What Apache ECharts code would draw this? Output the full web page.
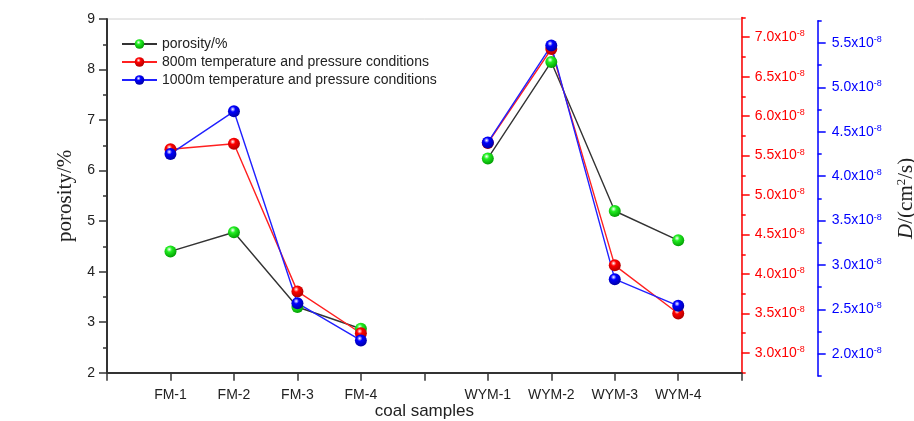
<!DOCTYPE html>
<html><head><meta charset="utf-8">
<script src="https://cdn.jsdelivr.net/npm/echarts@6/dist/echarts.min.js"></script>
<style>html,body{margin:0;padding:0;background:#fff}#c{width:914px;height:421px}</style>
</head><body><div id="c"></div>
<script>
// ---- data ----
const categories = ['', 'FM-1', 'FM-2', 'FM-3', 'FM-4', '', 'WYM-1', 'WYM-2', 'WYM-3', 'WYM-4', ''];
const seriesNames = ['porosity/%', '800m temperature and pressure conditions', '1000m temperature and pressure conditions'];
const porosity = [null, 4.40, 4.78, 3.30, 2.87, null, 6.24, 8.15, 5.20, 4.62, null];
// diffusion coefficients in units of 1e-8 cm^2/s
const d800 = [null, 5.58, 5.65, 3.78, 3.25, null, 5.66, 6.85, 4.11, 3.50, null];
const d1000 = [null, 4.25, 4.73, 2.57, 2.15, null, 4.38, 5.47, 2.84, 2.54, null];
const redTicks = [3.0, 3.5, 4.0, 4.5, 5.0, 5.5, 6.0, 6.5, 7.0];
const redMinor = [2.75, 3.25, 3.75, 4.25, 4.75, 5.25, 5.75, 6.25, 6.75, 7.25];
const blueTicks = [2.0, 2.5, 3.0, 3.5, 4.0, 4.5, 5.0, 5.5];
const blueMinor = [1.75, 2.25, 2.75, 3.25, 3.75, 4.25, 4.75, 5.25, 5.75];

const SANS = 'Liberation Sans, Arial, sans-serif';
const SERIF = 'Liberation Serif, Times New Roman, serif';

function sphere(base, dark) {
  return { type: 'radial', x: 0.4, y: 0.33, r: 0.7,
    colorStops: [{ offset: 0, color: '#ffffff' }, { offset: 0.32, color: base }, { offset: 1, color: dark }] };
}
function sciRich(color) {
  return {
    a: { fontSize: 14, color: color, fontFamily: SANS, lineHeight: 16 },
    b: { fontSize: 9, color: color, fontFamily: SANS, verticalAlign: 'top', lineHeight: 10 }
  };
}
const sciFmt = v => '{a|' + v.toFixed(1) + 'x10}{b|-8}';

const chart = echarts.init(document.getElementById('c'), null, { renderer: 'canvas' });
const G = { left: 107, right: 172.3, containLabel: false, outerBoundsMode: 'none' };
const option = {
  animation: false,
  backgroundColor: '#ffffff',
  grid: [
    Object.assign({}, G, { top: 19, bottom: 48.3, show: true, borderColor: '#d0d0d0', borderWidth: 1 }),
    Object.assign({}, G, { top: 17.5, bottom: 48.3 }),
    Object.assign({}, G, { top: 20.7, bottom: 45 })
  ],
  legend: {
    orient: 'vertical', left: 116, top: 32, itemWidth: 35, itemHeight: 12, itemGap: 4,
    textStyle: { fontSize: 14, color: '#222', fontFamily: SANS },
    data: seriesNames
  },
  xAxis: [
    { gridIndex: 0, type: 'category', data: categories, boundaryGap: false,
      axisLine: { lineStyle: { color: '#333', width: 2 } },
      axisTick: { interval: 0, length: 8, lineStyle: { color: '#333', width: 1.5 } },
      axisLabel: { interval: 0, margin: 15, fontSize: 14, color: '#222', fontFamily: SANS },
      splitLine: { show: false },
      name: 'coal samples', nameLocation: 'middle', nameGap: 30, nameMoveOverlap: false,
      nameTextStyle: { fontSize: 17, color: '#222', fontFamily: SANS } },
    { gridIndex: 1, type: 'category', data: categories, boundaryGap: false, show: false },
    { gridIndex: 2, type: 'category', data: categories, boundaryGap: false, show: false }
  ],
  yAxis: [
    { gridIndex: 0, type: 'value', position: 'left', min: 2, max: 9, interval: 1,
      axisLine: { show: true, lineStyle: { color: '#333', width: 2 } },
      axisTick: { show: true, length: 8, lineStyle: { color: '#333', width: 1.5 } },
      minorTick: { show: true, splitNumber: 2, length: 4, lineStyle: { color: '#333', width: 1.5 } },
      axisLabel: { margin: 12, fontSize: 14, color: '#222', fontFamily: SANS },
      splitLine: { show: false },
      name: 'porosity/%', nameLocation: 'middle', nameGap: 31,
      nameTextStyle: { fontSize: 21, color: '#222', fontFamily: SERIF } },
    { gridIndex: 1, type: 'value', position: 'right', min: 2.75, max: 7.25,
      axisLine: { show: true, lineStyle: { color: '#ff0000', width: 1.5 } },
      axisTick: { show: true, customValues: redTicks, length: 8, lineStyle: { color: '#ff0000', width: 1.5 } },
      axisLabel: { customValues: redTicks, margin: 13, formatter: sciFmt, rich: sciRich('#ff0000') },
      splitLine: { show: false } },
    { gridIndex: 1, type: 'value', position: 'right', min: 2.75, max: 7.25,
      axisLine: { show: false },
      axisTick: { show: true, customValues: redMinor, length: 4, lineStyle: { color: '#ff0000', width: 1.5 } },
      axisLabel: { show: false }, splitLine: { show: false } },
    { gridIndex: 2, type: 'value', position: 'right', offset: 76, min: 1.75, max: 5.75,
      axisLine: { show: true, lineStyle: { color: '#0000ff', width: 1.5 } },
      axisTick: { show: true, customValues: blueTicks, length: 8, lineStyle: { color: '#0000ff', width: 1.5 } },
      axisLabel: { customValues: blueTicks, margin: 14, formatter: sciFmt, rich: sciRich('#0000ff') },
      splitLine: { show: false },
      name: '{i|D}{n|/(cm}{s|2}{n|/s)}', nameLocation: 'middle', nameGap: 77,
      nameTextStyle: { rich: {
        i: { fontSize: 21, fontStyle: 'italic', fontFamily: SERIF, color: '#222', lineHeight: 24 },
        n: { fontSize: 21, fontFamily: SERIF, color: '#222', lineHeight: 24 },
        s: { fontSize: 13, fontFamily: SERIF, color: '#222', verticalAlign: 'top', lineHeight: 14 } } } },
    { gridIndex: 2, type: 'value', position: 'right', offset: 76, min: 1.75, max: 5.75,
      axisLine: { show: false },
      axisTick: { show: true, customValues: blueMinor, length: 4, lineStyle: { color: '#0000ff', width: 1.5 } },
      axisLabel: { show: false }, splitLine: { show: false } }
  ],
  series: [
    { name: seriesNames[0], type: 'line', xAxisIndex: 0, yAxisIndex: 0, data: porosity,
      symbol: 'circle', symbolSize: 12, connectNulls: false,
      lineStyle: { color: '#333333', width: 1.4 }, itemStyle: { color: sphere('#22ee22', '#009900') } },
    { name: seriesNames[1], type: 'line', xAxisIndex: 1, yAxisIndex: 1, data: d800,
      symbol: 'circle', symbolSize: 12, connectNulls: false,
      lineStyle: { color: '#ff2020', width: 1.4 }, itemStyle: { color: sphere('#ff0000', '#aa0000') } },
    { name: seriesNames[2], type: 'line', xAxisIndex: 2, yAxisIndex: 3, data: d1000,
      symbol: 'circle', symbolSize: 12, connectNulls: false,
      lineStyle: { color: '#2020ff', width: 1.4 }, itemStyle: { color: sphere('#0000ff', '#0000a0') } }
  ]
};
chart.setOption(option);
</script></body></html>
